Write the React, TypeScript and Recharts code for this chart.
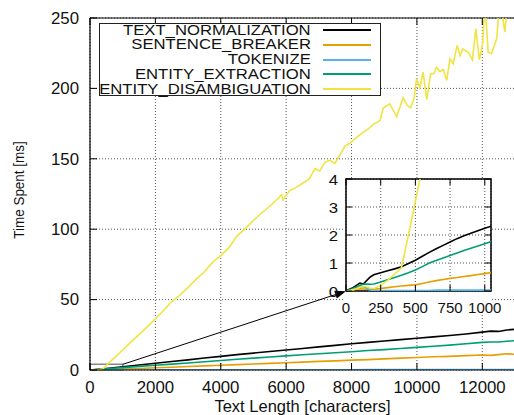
import { LineChart, Line, XAxis, YAxis, CartesianGrid, ReferenceArea, ReferenceLine } from 'recharts';

// main plot: Text Length [characters] -> Time Spent [ms]
const mainX = [0, 500, 1000, 1500, 2000, 2500, 3000, 3500, 4000, 4500, 5000, 5500, 6000, 6500, 7000, 7500, 8000, 8500, 9000, 9500, 10000, 10500, 11000, 11500, 12000, 12250, 12500, 12750, 13000];
const textNormalization = [0, 1.1, 2.3, 3.5, 4.8, 6.0, 7.2, 8.5, 9.7, 10.9, 12.0, 13.1, 14.2, 15.3, 16.4, 17.5, 18.6, 19.6, 20.6, 21.6, 22.6, 23.5, 24.5, 25.6, 26.9, 27.6, 27.4, 28.4, 28.9];
const sentenceBreaker = [0, 0.3, 0.7, 1.1, 1.6, 2.0, 2.5, 2.9, 3.4, 3.8, 4.3, 4.7, 5.2, 5.6, 6.1, 6.5, 7.0, 7.4, 7.9, 8.4, 8.9, 9.4, 9.7, 10.2, 10.7, 10.4, 10.9, 11.5, 11.1];
const tokenize = [0, 0.02, 0.03, 0.05, 0.06, 0.08, 0.09, 0.1, 0.12, 0.13, 0.15, 0.16, 0.18, 0.19, 0.2, 0.22, 0.23, 0.25, 0.26, 0.28, 0.29, 0.3, 0.32, 0.33, 0.35, 0.36, 0.36, 0.37, 0.38];
const entityExtraction = [0, 0.85, 1.7, 2.55, 3.4, 4.2, 5.0, 5.9, 6.8, 7.6, 8.4, 9.2, 10.0, 10.8, 11.5, 12.3, 13.0, 13.8, 14.5, 15.3, 16.1, 16.9, 17.7, 18.6, 19.6, 19.9, 19.9, 20.4, 20.8];
const disambX = [0, 250, 400, 500, 750, 1000, 1250, 1500, 1750, 2000, 2250, 2500, 2750, 3000, 3250, 3500, 3750, 4000, 4250, 4500, 4750, 5000, 5250, 5500, 5750, 5860, 5900, 6100, 6300, 6500, 6700, 6880, 7030, 7190, 7340, 7490, 7800, 7950, 8150, 8310, 8500, 8670, 8870, 8970, 9170, 9380, 9480, 9580, 9700, 9810, 9910, 9990, 10090, 10190, 10300, 10420, 10520, 10600, 10700, 10810, 10910, 11010, 11110, 11230, 11320, 11400, 11570, 11700, 11800, 11910, 12010, 12080, 12180, 12280, 12440, 12540, 12690, 12800, 12950];
const entityDisambiguation = [0.1, 0.2, 0.8, 3.2, 8.8, 14.2, 19.8, 25.1, 30.6, 36.4, 42.3, 48.6, 53.2, 58.7, 64.5, 69.8, 76.4, 81.2, 86.9, 95.3, 100.4, 106.2, 111.5, 116.3, 121.8, 124.6, 120.8, 127.2, 129.5, 132.6, 135.4, 143.0, 141.4, 147.7, 149.0, 146.8, 159.0, 161.0, 165.0, 168.0, 171.0, 174.5, 177.0, 186.0, 189.0, 180.0, 186.7, 193.4, 188.0, 186.3, 192.7, 206.9, 200.5, 211.6, 192.0, 210.4, 210.4, 215.0, 212.0, 213.3, 205.7, 221.0, 217.5, 230.5, 223.4, 228.0, 225.7, 220.3, 242.3, 220.3, 231.7, 262.0, 225.7, 224.6, 235.2, 264.0, 240.0, 268.0, 275.0];

// inset: zoom on 0..1000 characters
const insetX = [0, 25, 50, 75, 100, 125, 150, 175, 200, 250, 300, 350, 400, 450, 500, 550, 600, 650, 700, 750, 800, 850, 900, 950, 1000, 1050];
const insetTextNormalization = [0, 0.06, 0.12, 0.2, 0.28, 0.25, 0.38, 0.5, 0.58, 0.65, 0.72, 0.79, 0.87, 0.98, 1.1, 1.24, 1.38, 1.51, 1.63, 1.75, 1.87, 1.97, 2.06, 2.15, 2.24, 2.32];
const insetSentenceBreaker = [0, 0.02, 0.04, 0.06, 0.08, 0.07, 0.06, 0.05, 0.06, 0.09, 0.12, 0.15, 0.18, 0.2, 0.22, 0.27, 0.32, 0.37, 0.41, 0.45, 0.48, 0.52, 0.55, 0.59, 0.62, 0.66];
const insetTokenize = [0, 0.03, 0.06, 0.1, 0.14, 0.15, 0.1, 0.04, 0.02, 0.02, 0.02, 0.02, 0.02, 0.02, 0.02, 0.02, 0.02, 0.03, 0.03, 0.03, 0.03, 0.03, 0.03, 0.03, 0.03, 0.03];
const insetEntityExtraction = [0, 0.04, 0.09, 0.14, 0.2, 0.24, 0.25, 0.24, 0.25, 0.32, 0.4, 0.48, 0.56, 0.65, 0.75, 0.87, 1.0, 1.09, 1.18, 1.27, 1.36, 1.45, 1.53, 1.61, 1.69, 1.77];
const insetDisambX = [0, 25, 50, 75, 100, 125, 150, 175, 200, 250, 300, 350, 400, 450, 500, 550, 600];
const insetEntityDisambiguation = [0, 0.02, 0.05, 0.08, 0.13, 0.17, 0.15, 0.1, 0.08, 0.2, 0.38, 0.6, 0.84, 2.0, 3.2, 4.4, 5.5];

const mainXTicks = [0, 2000, 4000, 6000, 8000, 10000, 12000];
const mainYTicks = [0, 50, 100, 150, 200, 250];
const insetXTicks = [0, 250, 500, 750, 1000];
const insetYTicks = [0, 1, 2, 3, 4];

const seriesNames = ['TEXT_NORMALIZATION', 'SENTENCE_BREAKER', 'TOKENIZE', 'ENTITY_EXTRACTION', 'ENTITY_DISAMBIGUATION'];
const seriesColors = ['#000000', '#e69f00', '#56b4e9', '#009e73', '#f0e442'];

const FONT = "'Liberation Sans', Arial, Helvetica, sans-serif";

const pts = (xs: number[], ys: number[]) => xs.map((x, i) => ({ x, y: ys[i] }));

const mainSeries = [
  pts(mainX, textNormalization),
  pts(mainX, sentenceBreaker),
  pts(mainX, tokenize),
  pts(mainX, entityExtraction),
  pts(disambX, entityDisambiguation),
];
const insetSeries = [
  pts(insetX, insetTextNormalization),
  pts(insetX, insetSentenceBreaker),
  pts(insetX, insetTokenize),
  pts(insetX, insetEntityExtraction),
  pts(insetDisambX, insetEntityDisambiguation),
];

// plot frame (px) of the main chart and the inset (local coords)
const M = { top: 18, bottom: 370, left: 90 };
const I = { top: 19, bottom: 131, left: 46, right: 191 };

function Label(props: { x: number; y: number; anchor: string; size?: number; sx?: number; children: any }) {
  const { x, y, anchor, size = 16, sx = 1.05, children } = props;
  return (
    <text
      transform={`translate(${x},${y}) scale(${sx},1)`}
      textAnchor={anchor}
      dominantBaseline="central"
      fontSize={size}
      fontFamily={FONT}
      fill="#111"
    >
      {children}
    </text>
  );
}

function MainXTick(p: any) {
  return (
    <g>
      <line x1={p.x} x2={p.x} y1={M.bottom} y2={M.bottom - 7} stroke="#000" />
      <line x1={p.x} x2={p.x} y1={M.top} y2={M.top + 7} stroke="#000" />
      <Label x={p.x} y={M.bottom + 17} anchor="middle">{p.payload.value}</Label>
    </g>
  );
}

function MainYTick(p: any) {
  return (
    <g>
      <line x1={M.left} x2={M.left + 7} y1={p.y} y2={p.y} stroke="#000" />
      <Label x={M.left - 11} y={p.y} anchor="end">{p.payload.value}</Label>
    </g>
  );
}

function InsetXTick(p: any) {
  return (
    <g>
      <line x1={p.x} x2={p.x} y1={I.bottom} y2={I.bottom - 6} stroke="#000" />
      <line x1={p.x} x2={p.x} y1={I.top} y2={I.top + 6} stroke="#000" />
      <Label x={p.x} y={I.bottom + 16} anchor="middle" size={15} sx={1}>{p.payload.value}</Label>
    </g>
  );
}

function InsetYTick(p: any) {
  return (
    <g>
      <line x1={I.left} x2={I.left + 6} y1={p.y} y2={p.y} stroke="#000" />
      <line x1={I.right} x2={I.right - 6} y1={p.y} y2={p.y} stroke="#000" />
      <Label x={I.left - 8} y={p.y} anchor="end" size={15.5} sx={1.08}>{p.payload.value}</Label>
    </g>
  );
}

function Arrow(p: any) {
  const { x1, y1, x2, y2 } = p;
  const a = Math.atan2(y2 - y1, x2 - x1);
  const len = 11;
  const half = 4;
  const bx = x2 - len * Math.cos(a);
  const by = y2 - len * Math.sin(a);
  const head = `${x2},${y2} ${bx - half * Math.sin(a)},${by + half * Math.cos(a)} ${bx + half * Math.sin(a)},${by - half * Math.cos(a)}`;
  return (
    <g>
      <line x1={x1} y1={y1} x2={bx} y2={by} stroke="#000" strokeWidth={1} />
      <polygon points={head} fill="#000" />
    </g>
  );
}

function ChartLegend() {
  return (
    <div
      style={{
        position: 'absolute', left: 99, top: 23, width: 282, height: 73,
        border: '1px solid #222', background: '#fff', boxSizing: 'border-box',
        fontFamily: FONT, fontSize: 14, color: '#111',
      }}
    >
      {seriesNames.map((name, i) => (
        <div key={name}>
          <span
            style={{
              position: 'absolute', right: 69, top: -1.3 + i * 14.75, lineHeight: '14.7px',
              whiteSpace: 'nowrap', transform: 'scaleX(1.19)', transformOrigin: 'right center',
            }}
          >
            {name}
          </span>
          <div
            style={{
              position: 'absolute', left: 222.7, width: 48, height: 2,
              top: 5 + i * 14.75, background: seriesColors[i],
            }}
          />
        </div>
      ))}
    </div>
  );
}

export default function App() {
  return (
    <div style={{ position: 'absolute', left: 0, top: 0, width: 514, height: 415, overflow: 'hidden', background: '#fff' }}>
      <LineChart width={520} height={415} margin={{ top: 18, right: 5, bottom: 0, left: 0 }}>
        <CartesianGrid stroke="#555" strokeDasharray="1 2" />
        <XAxis
          dataKey="x" type="number" domain={[0, 13000]} ticks={mainXTicks} interval={0}
          height={45} allowDataOverflow axisLine={{ stroke: '#000', strokeWidth: 1.2 }}
          tickLine={false} tick={MainXTick}
          label={{ value: 'Text Length [characters]', position: 'insideBottom', offset: 3, fontSize: 16.5, fill: '#111', fontFamily: FONT }}
        />
        <YAxis
          type="number" domain={[0, 250]} ticks={mainYTicks} interval={0}
          width={90} allowDataOverflow axisLine={{ stroke: '#000', strokeWidth: 1.2 }}
          tickLine={false} tick={MainYTick}
          label={{
            content: () => (
              <text transform="translate(19,190) rotate(-90) scale(0.87,1)" textAnchor="middle"
                dominantBaseline="central" fontSize={15.5} fontFamily={FONT} fill="#111">
                Time Spent [ms]
              </text>
            ),
          }}
        />
        <ReferenceLine y={250} stroke="#000" strokeWidth={1.2} />
        <ReferenceArea x1={0} x2={1000} y1={0} y2={4} fill="none" fillOpacity={0} stroke="#888" strokeWidth={1.5} />
        {mainSeries.map((data, i) => (
          <Line
            key={seriesNames[i]} data={data} dataKey="y" name={seriesNames[i]}
            stroke={seriesColors[i]} strokeWidth={1.6} dot={false} isAnimationActive={false}
          />
        ))}
        <ReferenceLine segment={[{ x: 1000, y: 4 }, { x: 7830, y: 56 }]} shape={Arrow} />
      </LineChart>

      <ChartLegend />

      <div style={{ position: 'absolute', left: 345, top: 178, width: 147, height: 133, background: '#fff' }} />
      <div style={{ position: 'absolute', left: 300, top: 160 }}>
        <LineChart width={214} height={165} margin={{ top: 19, right: 23, bottom: 0, left: 0 }}>
          <CartesianGrid stroke="#555" strokeDasharray="1 2" />
          <XAxis
            dataKey="x" type="number" domain={[0, 1045]} ticks={insetXTicks} interval={0}
            height={34} allowDataOverflow axisLine={false} tickLine={false} tick={InsetXTick}
          />
          <YAxis
            type="number" domain={[0, 4]} ticks={insetYTicks} interval={0}
            width={46} allowDataOverflow axisLine={false} tickLine={false} tick={InsetYTick}
          />
          {insetSeries.map((data, i) => (
            <Line
              key={seriesNames[i]} data={data} dataKey="y" name={seriesNames[i]}
              stroke={seriesColors[i]} strokeWidth={1.6} dot={false} isAnimationActive={false}
            />
          ))}
          <ReferenceArea x1={0} x2={1045} y1={0} y2={4} fill="none" fillOpacity={0} stroke="#000" strokeWidth={1.5} />
        </LineChart>
      </div>
    </div>
  );
}
